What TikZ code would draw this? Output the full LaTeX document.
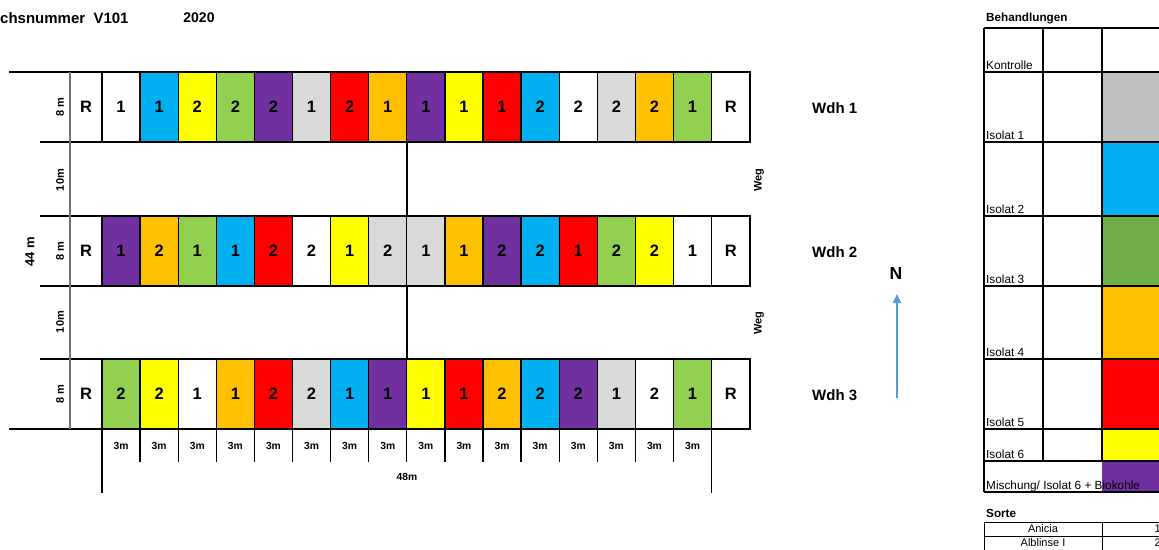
\documentclass[tikz,border=0pt]{standalone}
\usepackage{fontspec}
\setmainfont{Liberation Sans}
\usetikzlibrary{arrows.meta}

\definecolor{plotcyan}{RGB}{0,176,240}
\definecolor{plotyellow}{RGB}{255,255,0}
\definecolor{plotgreen}{RGB}{146,208,80}
\definecolor{plotpurple}{RGB}{112,48,160}
\definecolor{plotgray}{RGB}{217,217,217}
\definecolor{plotred}{RGB}{255,0,0}
\definecolor{plotorange}{RGB}{255,192,0}
\definecolor{legendgray}{RGB}{192,192,192}
\definecolor{legendgreen}{RGB}{112,173,71}
\definecolor{northblue}{RGB}{91,155,213}

\tikzset{
  gridline/.style={line width=1.3pt, black},
  paleline/.style={line width=1.3pt, black!55},
  thinline/.style={line width=0.9pt, black},
  plotnum/.style={font=\fontsize{16.5}{18}\bfseries\selectfont},
  dimlabel/.style={font=\fontsize{10.3}{12}\bfseries\selectfont},
  sidelabel/.style={font=\fontsize{11}{13}\bfseries\selectfont, rotate=90},
  wdhlabel/.style={font=\fontsize{15}{17}\bfseries\selectfont, anchor=west, inner sep=0pt},
  legendtext/.style={font=\fontsize{11.8}{13}\selectfont, anchor=base west, inner sep=0pt},
  headtext/.style={font=\fontsize{11.7}{13}\bfseries\selectfont, anchor=west, inner sep=0pt},
}

\begin{document}
\begin{tikzpicture}[x=1pt, y=-1pt]
    \useasboundingbox (0,0) rectangle (1159,549);
    \clip (0,0) rectangle (1159,549);

    % header
    \node[font=\fontsize{15}{17}\bfseries\selectfont, anchor=west, inner sep=0pt] (title) at (0,18) {chsnummer\ \ V101};
    \node[font=\fontsize{14}{16}\bfseries\selectfont] (year) at (199,18) {2020};

    % plots, Wdh 1
    \foreach \col/\num [count=\i from 0] in {white/1,plotcyan/1,plotyellow/2,plotgreen/2,plotpurple/2,plotgray/1,plotred/2,plotorange/1,plotpurple/1,plotyellow/1,plotred/1,plotcyan/2,white/2,plotgray/2,plotorange/2,plotgreen/1} {
        \draw[gridline, fill=\col] (102+38.1*\i,72) rectangle ++(38.1,70);
        \node[plotnum] (wa\i) at (121.05+38.1*\i,107) {\num};
    }
    % plots, Wdh 2
    \foreach \col/\num [count=\i from 0] in {plotpurple/1,plotorange/2,plotgreen/1,plotcyan/1,plotred/2,white/2,plotyellow/1,plotgray/2,plotgray/1,plotorange/1,plotpurple/2,plotcyan/2,plotred/1,plotgreen/2,plotyellow/2,white/1} {
        \draw[gridline, fill=\col] (102+38.1*\i,216) rectangle ++(38.1,70);
        \node[plotnum] (wb\i) at (121.05+38.1*\i,251) {\num};
    }
    % plots, Wdh 3
    \foreach \col/\num [count=\i from 0] in {plotgreen/2,plotyellow/2,white/1,plotorange/1,plotred/2,plotgray/2,plotcyan/1,plotpurple/1,plotyellow/1,plotred/1,plotorange/2,plotcyan/2,plotpurple/2,plotgray/1,white/2,plotgreen/1} {
        \draw[gridline, fill=\col] (102+38.1*\i,359) rectangle ++(38.1,70);
        \node[plotnum] (wc\i) at (121.05+38.1*\i,394) {\num};
    }

    % border plots R
    \foreach \y/\r in {72/a,216/b,359/c} {
        \draw[gridline] (70,\y) rectangle (102,\y+70);
        \draw[gridline] (711.6,\y) rectangle (750,\y+70);
        \node[plotnum] (rl\r) at (86,\y+35) {R};
        \node[plotnum] (rr\r) at (730.8,\y+35) {R};
    }

    % outline of field
    \draw[gridline] (9,72) -- (750,72);
    \foreach \y in {142,216,286,359} {\draw[gridline] (40,\y) -- (750,\y);}
    \draw[gridline] (9,429) -- (750,429);
    \draw[paleline] (70,72) -- (70,429);
    \draw[gridline] (407,142) -- (407,216);
    \draw[gridline] (407,286) -- (407,359);

    % plot widths
    \foreach \i in {0,...,16} {\draw[gridline] (102+38.1*\i,429) -- ++(0,33);}
    \foreach \i in {0,...,15} {\node[dimlabel] (m\i) at (121.05+38.1*\i,446) {3m};}
    \draw[gridline] (102,462) -- (102,493);
    \draw[gridline] (711.6,462) -- (711.6,493);
    \node[dimlabel] (total) at (407,477) {48m};

    % side labels
    \foreach \y in {107,251,394} {\node[sidelabel] at (60,\y) {8 m};}
    \node[sidelabel] (roada) at (60,180) {10m};
    \node[sidelabel] (roadb) at (60,322) {10m};
    \node[sidelabel, font=\fontsize{13}{15}\bfseries\selectfont] (height) at (30,252) {44 m};
    \node[sidelabel] (wega) at (759,180) {Weg};
    \node[sidelabel] (wegb) at (759,323) {Weg};

    % replications and north arrow
    \node[wdhlabel] (wdha) at (812,108) {Wdh 1};
    \node[wdhlabel] (wdhb) at (812,252) {Wdh 2};
    \node[wdhlabel] (wdhc) at (812,395) {Wdh 3};
    \node[font=\fontsize{17.5}{19}\bfseries\selectfont] (north) at (896,273) {N};
    \coordinate (arrowfoot) at (897,398);
    \coordinate (arrowtip) at (897,294);
    \draw[northblue, line width=2pt, -{Triangle[length=9pt, width=8pt]}] (arrowfoot) -- (arrowtip);

    % legend Behandlungen
    \node[headtext] (behandlungen) at (986,18) {Behandlungen};
    \foreach \ya/\yb/\col in {72/142/legendgray, 142/216/plotcyan, 216/286/legendgreen, 286/359/plotorange, 359/429/plotred, 429/461/plotyellow, 461/492/plotpurple} {
        \fill[\col] (1102,\ya) rectangle (1175,\yb);
    }
    \foreach \y in {28,72,142,216,286,359,429,461,492} {\draw[gridline] (984,\y) -- (1175,\y);}
    \draw[gridline] (984,28) -- (984,492);
    \draw[gridline] (1043,28) -- (1043,461);
    \draw[gridline] (1102,28) -- (1102,461);
    \foreach \y/\txt [count=\k] in {72/Kontrolle, 142/Isolat 1, 216/Isolat 2, 286/Isolat 3, 359/Isolat 4, 429/Isolat 5, 461/Isolat 6} {
        \node[legendtext] (iso\k) at (986,\y-3) {\txt};
    }
    \node[legendtext] (mix) at (986,489) {Mischung/ Isolat 6 + Biokohle};

    % legend Sorte
    \node[headtext] (sorte) at (986,513) {Sorte};
    \foreach \y in {522,536,550} {\draw[thinline] (984,\y) -- (1175,\y);}
    \draw[thinline] (984,522) -- (984,550);
    \draw[thinline] (1102,522) -- (1102,550);
    \node[font=\fontsize{11}{13}\selectfont] (anicia) at (1043,529) {Anicia};
    \node[font=\fontsize{11}{13}\selectfont, anchor=east, inner sep=0pt] (sortea) at (1161,529) {1};
    \node[font=\fontsize{11}{13}\selectfont] (alblinse) at (1043,543) {Alblinse I};
    \node[font=\fontsize{11}{13}\selectfont, anchor=east, inner sep=0pt] (sorteb) at (1161,543) {2};
\end{tikzpicture}
\end{document}
